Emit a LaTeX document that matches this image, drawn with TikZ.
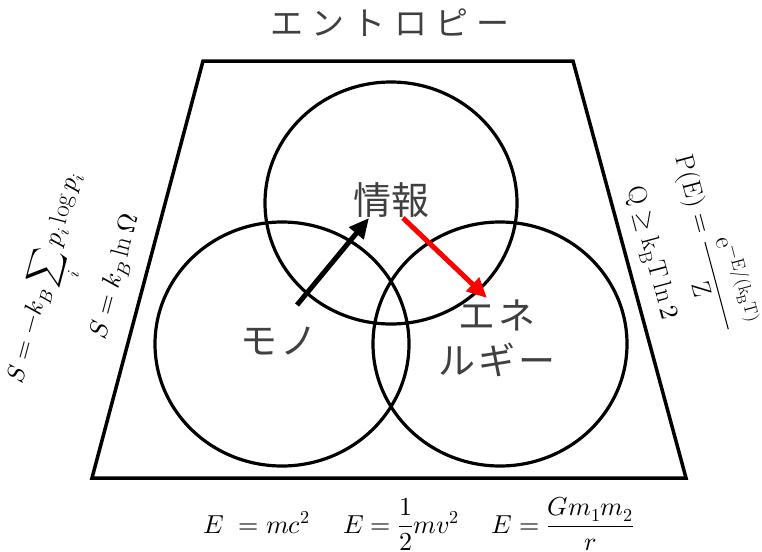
\documentclass[tikz,border=0pt]{standalone}
\usepackage{fontspec}
\usepackage{unicode-math}
\newfontfamily\jpfont{Noto Sans CJK JP}
\newfontfamily\jpwide[LetterSpace=25]{Noto Sans CJK JP}
\newfontfamily\jpmid[LetterSpace=8]{Noto Sans CJK JP}
\usetikzlibrary{arrows.meta,shapes.geometric}
\definecolor{txtgray}{HTML}{404040}
\definecolor{arrred}{HTML}{FF0000}
\begin{document}
\begin{tikzpicture}[x=1pt,y=-1pt,
  frame/.style={line width=3.5pt, line join=miter},
  ring/.style={draw, ellipse, line width=3.2pt, inner sep=0pt},
  jplabel/.style={text=txtgray, font=\jpmid\fontsize{37}{45}\selectfont, inner sep=0pt, align=center},
  kanjilabel/.style={text=txtgray, font=\jpfont\fontsize{38}{45}\selectfont, inner sep=0pt},
  titlelabel/.style={text=txtgray, font=\jpwide\fontsize{33}{40}\selectfont, inner sep=0pt},
  formula/.style={inner sep=0pt, font=\fontsize{26}{30}\selectfont},
  bigarrow/.style={line width=5pt, -{Triangle[length=20pt,width=18pt]}},
]
\useasboundingbox (0,0) rectangle (762,551);
% frame
\coordinate (TL) at (203,61);
\coordinate (TR) at (573,61);
\coordinate (BR) at (686,478);
\coordinate (BL) at (92,478);
\draw[frame] (TL) -- (TR) -- (BR) -- (BL) -- cycle;
% title
\node[titlelabel] (title) at (390,23) {エントロピー};
% circles
\node[ring, minimum width=252pt, minimum height=242pt] (cinfo) at (391,203) {};
\node[ring, minimum width=254pt, minimum height=244pt] (cmono) at (282,344) {};
\node[ring, minimum width=254pt, minimum height=244pt] (cene) at (500,344) {};
% labels
\node[kanjilabel] (joho) at (391,200) {情報};
\node[jplabel] (mono) at (279,341) {モノ};
\node[jplabel] (ene) at (497,338) {エネ\\ルギー};
% arrows
\coordinate (a1s) at (297,305);
\coordinate (a1e) at (369,218);
\coordinate (a2s) at (403,218);
\coordinate (a2e) at (487,298);
\draw[bigarrow] (a1s) -- (a1e);
\draw[bigarrow, draw=arrred, fill=arrred] (a2s) -- (a2e);
% left formulas
\node[formula, rotate=75, font=\fontsize{25}{30}\selectfont] (fshannon) at (54,280) {$\displaystyle S=-k_B\sum_i p_i\log p_i$};
\node[formula, rotate=75] (fboltz) at (116,277) {$S=k_B\ln\mitOmega$};
% right formulas
\node[formula, rotate=-75] (flandauer) at (651,253) {$\mathrm{Q}\geq\mathrm{k_B T}\ln 2$};
\node[formula, rotate=-75] (fprob) at (710,242) {$\mathrm{P(E)}=\dfrac{\mathrm{e}^{-\mathrm{E}/(\mathrm{k_B T})}}{\mathrm{Z}}$};
% bottom formulas
\node[formula, anchor=base] (fmc) at (257,533) {$E\;=mc^2$};
\node[formula, anchor=base] (fkin) at (401,533) {$E=\dfrac{1}{2}mv^2$};
\node[formula, anchor=base] (fgrav) at (563,533) {$E=\dfrac{Gm_1m_2}{r}$};
\end{tikzpicture}
\end{document}
